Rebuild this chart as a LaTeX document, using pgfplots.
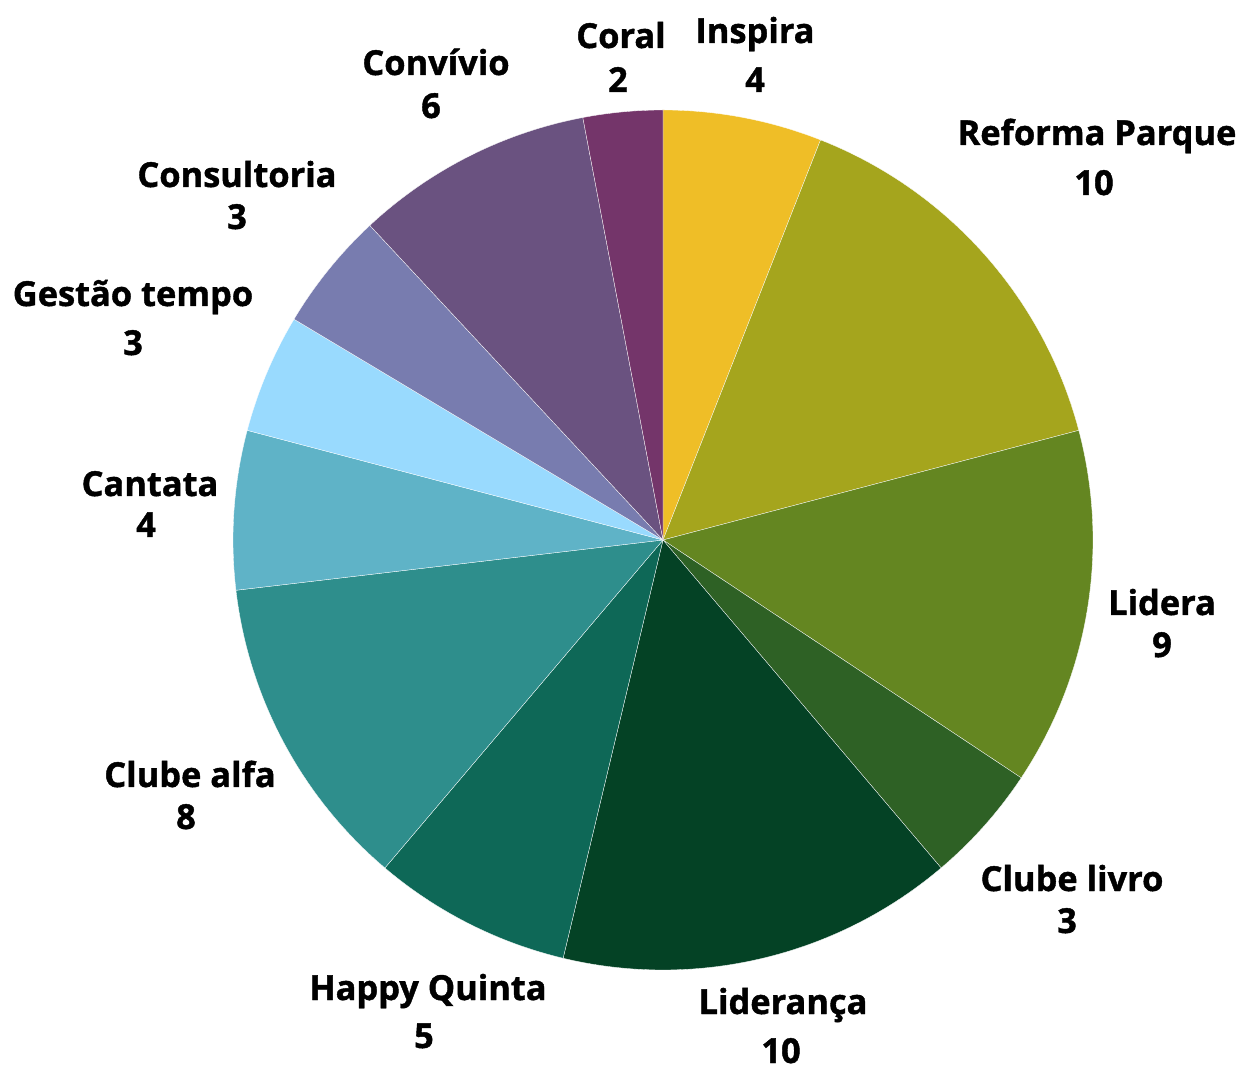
\documentclass[border=0pt]{standalone}
\usepackage{pgfplots}
\pgfplotsset{compat=1.18}
\usepackage{pgfplotstable}
\usepackage{fontspec}
\setmainfont{Open Sans}
\newfontfamily\labfont{Open Sans}[BoldFeatures={FakeBold=1.2}]

% slice colours, in data order (clockwise from 12 o'clock)
\definecolor{s0}{HTML}{EFBE27}
\definecolor{s1}{HTML}{A5A51D}
\definecolor{s2}{HTML}{648621}
\definecolor{s3}{HTML}{2E6125}
\definecolor{s4}{HTML}{044225}
\definecolor{s5}{HTML}{0E6857}
\definecolor{s6}{HTML}{2E8E8C}
\definecolor{s7}{HTML}{5FB3C7}
\definecolor{s8}{HTML}{99DAFE}
\definecolor{s9}{HTML}{787CAF}
\definecolor{s10}{HTML}{6A5280}
\definecolor{s11}{HTML}{74356A}

% name, value, label positions (name x/baseline, value x/baseline)
\pgfplotstableread[col sep=comma]{
name,value,nx,ny,vx,vy
Inspira,4,755,1023,755,974
Reforma Parque,10,1097,921,1094,871
Lidera,9,1162,451,1162,409
Clube livro,3,1072,175,1067,133
Liderança,10,783,52,781,3
Happy Quinta,5,428,66,424,18
Clube alfa,8,190,279,186,237
Cantata,4,150,570,146,529
Gestão tempo,3,133,760,133,711
Consultoria,3,237,879,237,837
Convívio,6,436,991,431,948
Coral,2,621,1018,618,974
}\piedata

\begin{document}
\begin{tikzpicture}
\pgfplotstablegetrowsof{\piedata}
\pgfmathtruncatemacro{\nrows}{\pgfplotsretval-1}
\def\total{0}
\pgfplotsforeachungrouped \i in {0,...,\nrows} {
  \pgfplotstablegetelem{\i}{value}\of\piedata
  \pgfmathsetmacro{\total}{\total+\pgfplotsretval}
}
\pgfmathsetmacro{\degper}{360/\total}
\begin{axis}[
  name=ax,
  width=621pt, height=533pt,
  scale only axis,
  xmin=0, xmax=1242, ymin=0, ymax=1066,
  hide axis,
  clip=false,
]
\def\cum{0}
\pgfplotsforeachungrouped \i in {0,...,\nrows} {
  \pgfplotstablegetelem{\i}{value}\of\piedata \let\v\pgfplotsretval
  \pgfmathsetmacro{\a}{90-\degper*\cum}
  \pgfmathsetmacro{\b}{90-\degper*(\cum+\v)}
  \pgfmathsetmacro{\sx}{663+430*cos(\a)}
  \pgfmathsetmacro{\sy}{526+430*sin(\a)}
  \edef\temp{\noexpand\fill[fill=s\i, draw=white, line width=0.15pt]
    (axis cs:663,526) -- (axis cs:\sx,\sy)
    arc[start angle=\a, end angle=\b, radius=215pt] -- cycle;}
  \temp
  \pgfmathsetmacro{\cum}{\cum+\v}
}
\pgfplotsforeachungrouped \i in {0,...,\nrows} {
  \pgfplotstablegetelem{\i}{name}\of\piedata \let\nm\pgfplotsretval
  \pgfplotstablegetelem{\i}{value}\of\piedata \let\v\pgfplotsretval
  \pgfplotstablegetelem{\i}{nx}\of\piedata \let\nx\pgfplotsretval
  \pgfplotstablegetelem{\i}{ny}\of\piedata \let\ny\pgfplotsretval
  \pgfplotstablegetelem{\i}{vx}\of\piedata \let\vx\pgfplotsretval
  \pgfplotstablegetelem{\i}{vy}\of\piedata \let\vy\pgfplotsretval
  \edef\temp{\noexpand\node[anchor=base, inner sep=0pt, font=\noexpand\labfont\noexpand\fontsize{17.2}{19}\noexpand\selectfont\noexpand\bfseries]
      at (axis cs:\nx,\ny) {\nm};
    \noexpand\node[anchor=base, inner sep=0pt, font=\noexpand\labfont\noexpand\fontsize{17.2}{19}\noexpand\selectfont\noexpand\bfseries]
      at (axis cs:\vx,\vy) {\v};}
  \temp
}
\end{axis}
\pgfresetboundingbox
\path[use as bounding box] (ax.south west) rectangle (ax.north east);
\end{tikzpicture}
\end{document}
